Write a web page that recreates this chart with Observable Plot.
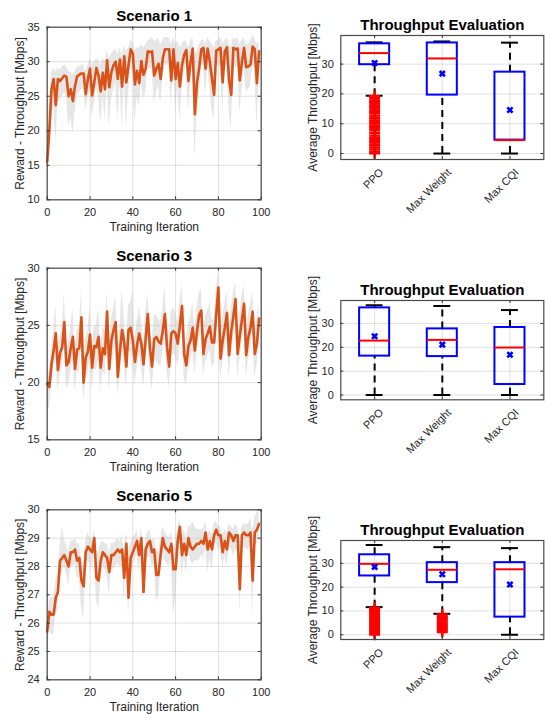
<!DOCTYPE html>
<html>
<head>
<meta charset="utf-8">
<script src="https://cdn.jsdelivr.net/npm/d3@7"></script>
<script src="https://cdn.jsdelivr.net/npm/@observablehq/plot@0.6"></script>
<style>
  html, body { margin: 0; padding: 0; background: #fff; }
  #page { position: relative; width: 545px; height: 715px; overflow: hidden; background: #fff; }
  #page > svg, #page > figure { position: absolute; margin: 0; }
</style>
</head>
<body>
<div id="page"></div>
<script>
// ---------------- DATA ----------------
const iterations = d3.range(0, 100);
const xTicksLine = [0, 20, 40, 60, 80, 100];

const s1Mean = [15.5,20.0,26.0,27.5,23.7,27.5,27.2,27.6,28.0,27.8,25.0,26.0,24.3,26.5,27.9,28.1,28.3,28.3,25.3,27.5,
  29.0,25.1,27.0,29.1,28.0,25.7,28.4,26.0,30.2,26.3,28.5,29.5,30.0,27.5,30.3,26.4,30.8,27.0,29.5,31.8,
  31.2,26.7,28.7,26.9,30.1,28.1,29.0,31.5,31.4,31.5,28.0,29.0,29.7,27.5,30.5,31.8,31.8,31.8,27.3,31.8,
  27.5,29.8,26.4,29.5,31.0,31.7,27.2,30.0,31.9,22.4,27.0,29.0,31.8,32.0,29.0,31.9,30.0,27.5,25.2,31.6,
  31.8,32.0,27.0,31.5,32.1,27.3,25.2,32.0,31.8,31.9,27.3,30.0,32.0,29.2,29.3,29.6,32.2,31.8,26.9,31.5];
const s1Hi = [17,23,28.5,29,28.5,29,28.8,29.2,29.5,29.3,28.5,28.5,28.0,28.5,29.2,29.3,29.5,29.5,28.5,29.5,
  30.5,29.5,30.0,30.5,30.2,29.5,30.5,30.0,31.5,30.5,31.0,31.5,31.8,31.0,32.0,31.0,32.3,31.5,32.0,33.0,
  33.0,31.5,32.0,32.0,32.5,32.0,32.5,33.0,33.2,33.5,33.0,33.0,33.5,32.5,33.0,33.5,33.5,33.5,32.5,33.5,
  32.5,33.0,32.0,32.5,33.0,33.0,32.0,33.0,33.5,31.0,31.5,32.5,33.0,33.2,32.5,33.5,33.0,32.5,32.0,33.0,
  33.2,33.5,32.5,33.0,33.5,32.5,32.0,33.5,33.2,33.5,32.5,33.0,33.5,32.5,32.5,33.0,33.8,33.5,32.5,33.0];
const s1Lo = [14.5,17,21,24,18,24,24.5,25,25.5,25,20.5,22,19.5,22.5,25,25.5,26,26,23,24.5,
  26,22,24,26.5,25,21,25,21.5,27,20.5,24.5,26,27,21.5,27,20.5,27.5,20.5,25.5,29,
  28,21,25,23.5,27,24.5,25.5,29,29,29,24,25.5,26.5,24,27.5,29.5,29.5,29.5,23.5,29.5,
  22.5,26.5,21.5,26,28.5,29.5,23,26.5,29.5,16,22,25,29.5,29.5,25,29.5,26,23,21.5,29,
  29.5,29.5,22.5,29,29.5,23,20,29.5,29,29.5,22.5,26,29.5,25.5,26,26.5,29.5,29,20.5,28];

const s3Mean = [19.9,19.6,21.6,22.8,24.3,21.1,22.6,23.1,25.3,21.5,21.8,23.0,24.0,21.2,22.9,23.0,25.7,20.0,22.2,22.7,
  24.2,21.3,23.2,23.1,24.0,21.3,23.0,22.5,26.2,21.2,23.7,24.6,25.3,20.5,22.8,24.6,23.5,21.4,24.6,24.8,
  23.7,21.8,23.3,24.3,23.4,21.6,23.8,26.0,23.0,21.4,23.8,24.0,23.6,23.4,24.5,26.0,23.1,21.4,24.3,24.5,
  24.3,23.4,25.0,26.7,22.5,21.5,23.2,23.7,24.8,22.8,24.5,25.9,26.3,22.5,23.8,24.3,24.9,23.5,23.5,26.0,
  28.3,22.1,23.7,24.8,26.1,22.4,24.5,25.8,27.3,22.5,24.1,25.5,26.9,22.4,24.0,24.8,26.2,22.5,23.4,25.6];
const s3Hi = [20.8,21.0,23.0,24.5,26.8,23.0,24.0,24.8,27.8,23.2,23.3,24.8,26.5,23.0,24.5,25.0,28.0,21.8,23.8,24.5,
  26.6,23.0,25.0,25.0,26.5,23.0,24.8,24.5,28.0,23.0,25.5,26.5,27.5,22.5,24.8,28.2,25.5,23.3,26.8,27.0,
  28.0,23.8,25.3,26.5,25.5,23.5,26.0,27.8,25.0,23.5,25.8,26.0,25.5,25.3,26.5,28.5,25.0,23.3,26.3,26.5,
  26.2,25.3,27.0,28.6,24.5,23.5,25.2,25.7,27.0,24.8,26.5,27.8,28.2,24.5,25.8,26.3,27.0,25.5,25.5,28.0,
  29.6,24.0,25.7,26.8,28.0,24.4,26.5,27.8,28.8,24.5,26.0,27.5,28.5,24.4,26.0,26.8,28.0,24.5,25.4,27.0];
const s3Lo = [18.2,17.6,19.8,21.0,22.3,19.2,20.7,21.2,23.3,19.5,19.8,21.0,22.0,19.2,20.9,21.0,23.5,18.3,20.2,20.7,
  22.2,19.4,21.2,21.1,22.0,19.3,21.0,20.5,24.0,19.2,21.7,22.6,23.3,18.8,20.8,22.6,21.5,19.4,22.6,22.8,
  21.7,19.8,21.3,22.3,21.4,19.6,21.8,24.0,21.0,19.3,21.8,22.0,21.6,21.4,22.5,24.0,21.1,19.5,22.3,22.5,
  22.3,21.4,23.0,24.7,20.5,19.7,21.2,21.7,22.8,20.8,22.5,23.9,24.3,20.5,21.8,22.3,22.9,21.5,21.5,24.0,
  26.3,20.3,21.7,22.8,24.1,20.4,22.5,23.8,25.3,20.5,22.1,23.5,24.9,20.4,22.0,22.8,24.2,20.5,21.4,23.6];

const s5Mean = [25.7,26.4,26.3,26.3,26.9,27.1,28.2,28.3,28.4,28.2,28.0,28.5,28.5,28.6,28.2,28.3,27.5,27.3,28.5,28.7,
  28.6,28.5,29.0,27.6,27.5,28.2,28.5,28.4,28.3,27.8,28.4,28.4,28.5,28.6,28.5,28.6,27.6,28.8,26.9,28.3,
  28.5,28.7,28.9,28.4,29.0,27.1,28.6,28.8,28.9,28.5,28.6,27.7,27.7,28.4,29.0,28.7,28.6,28.5,28.8,27.9,
  27.9,28.9,29.4,28.4,28.8,28.4,29.0,28.7,28.6,28.7,28.8,28.8,28.9,28.8,29.2,28.6,28.9,28.6,29.1,29.3,
  29.1,29.1,28.5,28.9,28.6,29.2,29.1,28.9,29.1,29.1,27.2,29.1,29.2,29.1,29.1,29.2,27.5,29.2,29.3,29.5];
const s5Hi = [26.0,26.8,26.9,26.9,27.5,27.8,28.7,29.4,29.0,28.7,28.5,28.9,28.9,29.0,28.8,28.8,28.3,28.0,28.9,29.2,
  29.0,28.9,29.3,28.6,28.5,28.8,28.9,28.8,28.8,28.5,28.8,28.8,28.9,29.0,28.9,29.0,28.6,29.2,28.5,28.8,
  29.0,29.1,29.3,28.9,29.4,28.3,29.0,29.2,29.3,28.9,29.0,28.5,28.5,28.9,29.4,29.2,29.1,29.0,29.2,28.7,
  28.8,29.3,29.7,29.0,29.3,29.0,29.4,29.4,29.6,29.4,29.3,29.3,29.3,29.3,29.6,29.1,29.3,29.1,29.5,29.6,
  29.4,29.4,29.1,29.3,29.2,29.5,29.4,29.3,29.5,29.4,28.8,29.4,29.5,29.5,29.5,29.7,29.3,29.7,29.9,30.0];
const s5Lo = [24.9,25.8,25.6,25.6,26.3,26.5,27.6,27.8,28.0,27.7,27.3,28.0,28.0,28.1,27.6,27.6,26.6,26.1,27.8,28.2,
  28.1,27.9,28.4,26.8,26.5,27.5,28.0,27.9,27.7,27.0,27.9,27.9,28.0,28.1,28.0,28.0,26.7,28.2,26.3,27.7,
  28.0,28.2,28.4,27.8,28.5,26.9,28.1,28.3,28.4,28.0,28.1,26.8,26.9,27.8,28.5,28.2,28.1,28.0,28.3,26.3,
  26.8,28.3,28.9,27.6,28.3,27.8,28.5,28.2,28.1,28.2,28.2,28.2,28.4,28.3,28.7,27.8,28.3,27.9,28.6,28.8,
  28.6,28.6,27.9,28.4,28.0,28.7,28.6,28.4,28.6,28.6,26.4,28.6,28.7,28.6,28.6,28.7,26.3,28.7,28.8,29.0];

const s1YTicks = [10, 15, 20, 25, 30, 35];
const s3YTicks = [15, 20, 25, 30];
const s5YTicks = [24, 25, 26, 27, 28, 29, 30];

const methods = ["PPO", "Max Weight", "Max CQI"];
const boxYTicks = [0, 10, 20, 30];
// Scenario 1 box stats
const b1Q1 = [29.8, 19.6, 4.5], b1Med = [33.7, 31.9, 4.5], b1Q3 = [36.8, 37.1, 27.3];
const b1Lo = [19.4, 0, 0], b1Hi = [37.3, 37.6, 37.2], b1Mean = [30.4, 26.8, 14.6];
const b1OutPPO = [0,0.3,0.8,1.4,2.0,2.6,3.1,3.7,4.2,4.9,5.4,6.0,6.7,7.1,7.8,8.3,8.9,9.4,10.0,10.6,
  11.1,11.7,12.2,12.8,13.4,13.9,14.5,15.0,15.6,16.2,16.7,17.3,17.8,18.4,18.9,19.3];
// Scenario 3 box stats
const b3Q1 = [16.3, 16.1, 4.4], b3Med = [22.8, 23.1, 19.9], b3Q3 = [36.5, 27.7, 28.3];
const b3Lo = [0, 0, 0], b3Hi = [37.6, 37.3, 35.6], b3Mean = [24.6, 21.1, 16.9];
// Scenario 5 box stats
const b5Q1 = [24.7, 21.9, 7.4], b5Med = [29.8, 27.3, 27.5], b5Q3 = [33.6, 30.3, 30.3];
const b5Lo = [11.6, 8.8, 0], b5Hi = [37.7, 36.8, 36.4], b5Mean = [28.5, 25.4, 21.1];
const b5OutPPO = [0,0.4,0.9,1.5,2.0,2.6,3.1,3.7,4.3,4.8,5.4,5.9,6.5,7.0,7.6,8.2,8.7,9.3,9.8,10.4,10.9,11.3];
const b5OutMW = [1.0,1.5,2.0,2.6,3.1,3.7,4.2,4.8,5.3,5.9,6.4,7.0,7.5,8.1,8.6];

// ---------------- DRAWING ----------------
const FONT = "'Liberation Sans', Arial, Helvetica, sans-serif";
const TEXT = "#262626";
const page = document.getElementById("page");

function place(el, left, top) {
  el.style.left = left + "px";
  el.style.top = top + "px";
  page.appendChild(el);
}

function inwardTicks(xVals, yVals, innerW, innerH) {
  const s = {stroke: "#333", strokeWidth: 1};
  return [
    Plot.ruleX(xVals, {...s, insetTop: innerH - 3}),
    Plot.ruleX(xVals, {...s, insetBottom: innerH - 3}),
    Plot.ruleY(yVals, {...s, insetRight: innerW - 3}),
    Plot.ruleY(yVals, {...s, insetLeft: innerW - 3})
  ];
}

function lineChart(cfg) {
  const W = 272, H = 240, ml = 46.7, mr = 11.3, mb = 40.7;
  const innerW = W - ml - mr, innerH = H - cfg.mt - mb;
  const data = cfg.mean.map((v, i) => ({x: iterations[i], y: v, lo: cfg.lo[i], hi: cfg.hi[i]}));
  const grid = {stroke: "#000", strokeOpacity: 0.12, strokeWidth: 1};
  return Plot.plot({
    width: W, height: H,
    marginLeft: ml, marginRight: mr, marginTop: cfg.mt, marginBottom: mb,
    x: {domain: [0, 100]},
    y: {domain: cfg.yDomain},
    style: {fontFamily: FONT, fontSize: "11px", color: TEXT, background: "transparent", overflow: "visible"},
    marks: [
      Plot.gridX(xTicksLine, grid),
      Plot.gridY(cfg.yTicks, grid),
      Plot.areaY(data, {x: "x", y1: "lo", y2: "hi", fill: "#c4c4c4", fillOpacity: 0.42}),
      Plot.lineY(data, {x: "x", y: "y", stroke: "#D95319", strokeWidth: 2.6, strokeLinejoin: "round"}),
      Plot.frame({stroke: "#4a4a4a", strokeWidth: 1.2}),
      ...inwardTicks(xTicksLine, cfg.yTicks, innerW, innerH),
      Plot.axisX(xTicksLine, {tickSize: 0, tickPadding: 8, fontSize: 11, label: null}),
      Plot.axisY(cfg.yTicks, {tickSize: 0, tickPadding: 7.5, fontSize: 11, label: null}),
      Plot.text([cfg.title], {text: d => d, frameAnchor: "top", lineAnchor: "middle", textAnchor: "middle",
        dy: 15.2 - cfg.mt, fontSize: 15, fontWeight: "bold", fill: "#000"}),
      Plot.text(["Training Iteration"], {text: d => d, frameAnchor: "bottom", lineAnchor: "middle", textAnchor: "middle",
        dy: 27, fontSize: 12}),
      Plot.text(["Reward - Throughput [Mbps]"], {text: d => d, frameAnchor: "left", lineAnchor: "middle", textAnchor: "middle",
        dx: -26.9, rotate: -90, fontSize: 12})
    ]
  });
}

function boxChart(cfg) {
  const W = 270, H = 240, ml = 65.3, mr = 1.7;
  const innerW = W - ml - mr, innerH = H - cfg.mt - cfg.mb;
  const hw = 0.222, cw = 0.125;
  const rows = methods.map((name, k) => ({
    name, i: k + 1, q1: cfg.q1[k], med: cfg.med[k], q3: cfg.q3[k],
    lo: cfg.lo[k], hi: cfg.hi[k], mean: cfg.mean[k]
  }));
  const outliers = [];
  cfg.outliers.forEach(([k, vals]) => vals.forEach(v => outliers.push({i: k + 1, v})));
  const grid = {stroke: "#000", strokeOpacity: 0.12, strokeWidth: 1};
  return Plot.plot({
    width: W, height: H,
    marginLeft: ml, marginRight: mr, marginTop: cfg.mt, marginBottom: cfg.mb,
    x: {domain: [0.5, 3.5], axis: null},
    y: {domain: [-2, 39.6]},
    style: {fontFamily: FONT, fontSize: "11px", color: TEXT, background: "transparent", overflow: "visible"},
    marks: [
      Plot.gridX([1, 2, 3], grid),
      Plot.gridY(boxYTicks, grid),
      Plot.ruleX(rows, {x: "i", y1: "q3", y2: "hi", stroke: "#000", strokeWidth: 2, strokeDasharray: "7,5"}),
      Plot.ruleX(rows, {x: "i", y1: "lo", y2: "q1", stroke: "#000", strokeWidth: 2, strokeDasharray: "7,5"}),
      Plot.ruleY(rows, {y: "hi", x1: d => d.i - cw, x2: d => d.i + cw, stroke: "#000", strokeWidth: 2}),
      Plot.ruleY(rows, {y: "lo", x1: d => d.i - cw, x2: d => d.i + cw, stroke: "#000", strokeWidth: 2}),
      Plot.dot(outliers, {x: "i", y: "v", symbol: "plus", stroke: "#ff0000", strokeWidth: 2, r: 3.6}),
      Plot.rect(rows, {x1: d => d.i - hw, x2: d => d.i + hw, y1: "q1", y2: "q3", fill: "none", stroke: "#0000ff", strokeWidth: 2}),
      Plot.ruleY(rows, {y: "med", x1: d => d.i - hw, x2: d => d.i + hw, stroke: "#ff0000", strokeWidth: 2}),
      Plot.dot(rows, {x: "i", y: "mean", symbol: "times", stroke: "#0000ff", strokeWidth: 2.6, r: 2.5}),
      Plot.frame({stroke: "#4a4a4a", strokeWidth: 1.2}),
      ...inwardTicks([1, 2, 3], boxYTicks, innerW, innerH),
      Plot.axisY(boxYTicks, {tickSize: 0, tickPadding: 7, fontSize: 11, label: null}),
      Plot.text(rows, {x: "i", text: "name", frameAnchor: "bottom", lineAnchor: "middle", textAnchor: "end",
        dx: 7, dy: 11, rotate: -45, fontSize: 11}),
      Plot.text(["Throughput Evaluation"], {text: d => d, frameAnchor: "top", lineAnchor: "middle", textAnchor: "middle",
        dy: -10.8, fontSize: 15, fontWeight: "bold", fill: "#000"}),
      Plot.text(["Average Throughput [Mbps]"], {text: d => d, frameAnchor: "left", lineAnchor: "middle", textAnchor: "middle",
        dx: -27.2, rotate: -90, fontSize: 12})
    ]
  });
}

place(lineChart({title: "Scenario 1", mean: s1Mean, lo: s1Lo, hi: s1Hi, yDomain: [10, 35], yTicks: s1YTicks, mt: 26.7}), 0, 0);
place(lineChart({title: "Scenario 3", mean: s3Mean, lo: s3Lo, hi: s3Hi, yDomain: [15, 30], yTicks: s3YTicks, mt: 27.7}), 0, 240);
place(lineChart({title: "Scenario 5", mean: s5Mean, lo: s5Lo, hi: s5Hi, yDomain: [24, 30], yTicks: s5YTicks, mt: 29.3}), 0, 480);

place(boxChart({q1: b1Q1, med: b1Med, q3: b1Q3, lo: b1Lo, hi: b1Hi, mean: b1Mean, outliers: [[0, b1OutPPO]], mt: 35, mb: 81}), 275, 0);
place(boxChart({q1: b3Q1, med: b3Med, q3: b3Q3, lo: b3Lo, hi: b3Hi, mean: b3Mean, outliers: [], mt: 60, mb: 80.7}), 275, 240);
place(boxChart({q1: b5Q1, med: b5Med, q3: b5Q3, lo: b5Lo, hi: b5Hi, mean: b5Mean, outliers: [[0, b5OutPPO], [1, b5OutMW]], mt: 60, mb: 81}), 275, 480);
</script>
</body>
</html>
